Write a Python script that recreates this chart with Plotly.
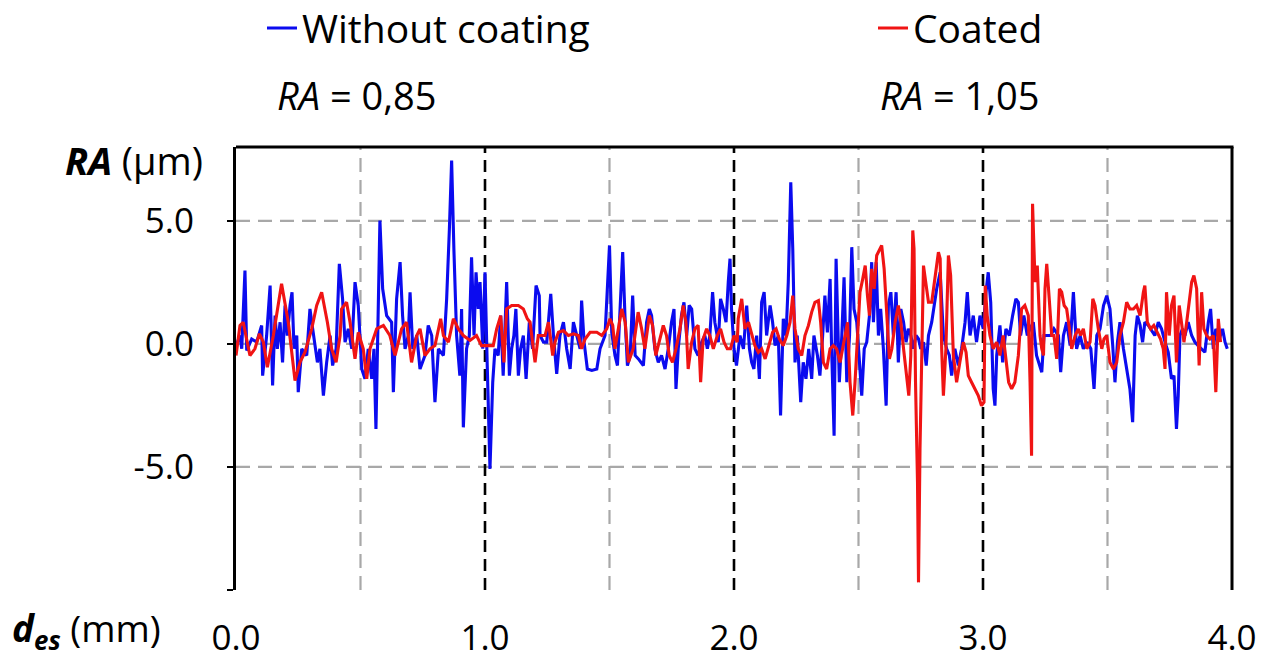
import plotly.graph_objects as go

# ---------------- data ----------------
blue_x = [0.0, 0.016, 0.023, 0.036, 0.043, 0.063, 0.083, 0.103, 0.107, 0.123, 0.137, 0.147, 0.157, 0.166, 0.177,
          0.187, 0.197, 0.206, 0.217, 0.225, 0.233, 0.244, 0.25, 0.264, 0.284, 0.297, 0.308, 0.317, 0.327, 0.337,
          0.351, 0.364, 0.378, 0.388, 0.402, 0.415,
          0.428, 0.438, 0.451, 0.465, 0.478, 0.491, 0.505, 0.518, 0.531, 0.545, 0.554, 0.562, 0.572, 0.578, 0.589,
          0.605, 0.625, 0.632, 0.645, 0.659, 0.669, 0.679, 0.692, 0.699, 0.71, 0.726, 0.739, 0.759, 0.772, 0.786,
          0.799, 0.813,
          0.833, 0.846, 0.857, 0.866, 0.875, 0.886, 0.899, 0.906, 0.913, 0.926, 0.937, 0.946, 0.956, 0.964, 0.973,
          0.98, 0.991, 1.0, 1.009, 1.02, 1.031, 1.04, 1.053, 1.063, 1.073, 1.087, 1.098, 1.107, 1.116, 1.124, 1.134,
          1.143, 1.154, 1.165, 1.178, 1.191, 1.205, 1.218,
          1.221, 1.235, 1.248, 1.264, 1.275, 1.288, 1.301, 1.315, 1.328, 1.342, 1.355, 1.368, 1.382, 1.388, 1.398,
          1.411, 1.429, 1.449, 1.462, 1.482, 1.492, 1.5, 1.509, 1.522, 1.532, 1.542, 1.553, 1.562, 1.572, 1.583,
          1.593, 1.603, 1.616,
          1.636, 1.649, 1.66, 1.669, 1.682, 1.696, 1.709, 1.723, 1.736, 1.749, 1.759, 1.767, 1.776, 1.789, 1.799,
          1.81, 1.82, 1.83, 1.843, 1.856, 1.87, 1.883, 1.893, 1.903, 1.914, 1.923, 1.937, 1.946, 1.957, 1.968,
          1.977, 1.984, 1.99, 2.0, 2.01,
          2.024, 2.038, 2.051, 2.062, 2.071, 2.08, 2.091, 2.102, 2.111, 2.121, 2.131, 2.145, 2.155, 2.165, 2.178,
          2.187, 2.198, 2.209, 2.218, 2.228, 2.236, 2.245, 2.254, 2.268, 2.278, 2.289, 2.3, 2.312, 2.321, 2.335,
          2.345, 2.356, 2.365, 2.375, 2.386, 2.392, 2.402, 2.41,
          2.423, 2.433, 2.442, 2.453, 2.464, 2.473, 2.482, 2.493, 2.504, 2.513, 2.523, 2.533, 2.544, 2.553, 2.56,
          2.571, 2.58, 2.589, 2.6, 2.611, 2.62, 2.63, 2.64, 2.651, 2.66, 2.67, 2.681, 2.691, 2.7, 2.71, 2.721,
          2.731, 2.741, 2.75, 2.761, 2.772, 2.781, 2.794, 2.814, 2.828,
          2.841, 2.854, 2.865, 2.874, 2.887, 2.901, 2.914, 2.928, 2.937, 2.948, 2.961, 2.974, 2.988, 3.001, 3.012,
          3.021, 3.031, 3.041, 3.048, 3.055, 3.068, 3.079, 3.092, 3.106, 3.119, 3.132, 3.142, 3.151, 3.164, 3.178,
          3.189, 3.202, 3.215, 3.229,
          3.236, 3.245, 3.259, 3.272, 3.285, 3.303, 3.312, 3.323, 3.336, 3.35, 3.363, 3.376, 3.39, 3.403, 3.419,
          3.433, 3.446, 3.457, 3.47, 3.484, 3.497, 3.51, 3.521, 3.53, 3.54, 3.55, 3.564, 3.577, 3.59, 3.601, 3.611,
          3.62, 3.631,
          3.641, 3.65, 3.664, 3.677, 3.69, 3.704, 3.717, 3.731, 3.744, 3.757, 3.767, 3.777, 3.784, 3.791, 3.801,
          3.811, 3.824, 3.838, 3.851, 3.864, 3.878, 3.891, 3.905, 3.914, 3.925, 3.935, 3.949, 3.962, 3.972, 3.981]
blue_y = [-0.07, 0.34, -0.2, 2.98, -0.27, 0.2, 0.07, 0.75, -1.29, 0.34, 2.37, -1.69, 1.15, -0.2, 0.88,
          -0.75, 1.56, 0.34, 1.56, 2.1, -0.2, 0.34, -1.96, -0.2, -0.47, 1.42, 0.61, -0.07, -0.75, -0.2,
          -2.1, -0.75, 0.34, -0.88, -0.2, 3.25,
          1.83, 0.07, 0.61, -0.2, 2.51, 1.56, -1.02, -1.42, -0.2, -1.42, -0.2, -3.46, 1.15, 5.01, 2.24,
          1.15, 0.88, -1.96, 1.83, 3.32, 1.15, -0.2, 0.34, 2.1, -0.2, 0.34, -1.02, -0.47, 0.75, 0.34,
          -2.37, -0.2,
          -0.47, 1.83, 4.67, 7.45, 3.86, 0.34, -1.29, 1.42, -3.39, -0.2, 0.34, 3.52, 0.34, 2.91, 1.42,
          2.51, -0.2, 2.91, -0.88, -5.08, -1.56, -0.2, -0.47, 1.15, -1.29, 2.51, -1.29, -0.2, 0.34, 1.42, -1.29,
          -0.2, 0.34, -1.42, 0.88, -0.2, 2.37, 1.96,
          0.34, 0.07, 0.07, 2.03, 0.34, -1.22, 0.34, 0.88, -0.2, -1.02, 0.88, 0.34, -0.2, 1.76, 0.07,
          -1.02, -1.08, -1.02, -0.2, 0.34, 2.78, 4.0, 0.47, -0.47, -0.88, 1.29, 3.73, 1.15, -0.88, -0.47,
          1.96, -0.47, -0.61,
          -0.88, 0.88, 1.42, 1.15, -0.2, -0.75, -0.47, -1.02, -0.2, 0.88, 1.42, -1.83, -0.2, 1.15, 1.69,
          0.34, 1.56, 1.42, -0.2, -0.47, 0.07, 0.34, -0.2, 0.34, 2.1, 0.88, 0.07, 1.83, 1.42, 0.88,
          2.51, 3.46, 1.42, -0.2, -0.88,
          0.34, -0.2, 1.56, -0.2, -0.75, -1.02, 0.34, -1.42, 1.69, 2.1, 0.34, 1.56, 0.88, -0.07, 0.34,
          -2.91, 1.02, 0.34, 2.51, 6.57, 3.86, -0.75, 0.34, -2.37, -0.75, -1.42, -0.2, -1.42, 0.34, -0.47,
          -1.29, 0.34, 1.96, 0.47, 2.64, -0.2, -3.73, 3.46,
          -1.56, 0.34, 2.71, -1.56, 0.34, 3.93, 1.42, 0.88, -0.88, -2.1, -0.2, 0.07, 1.15, 3.32, 0.88,
          3.32, 0.34, 1.42, -0.2, -2.51, 1.56, 2.1, 0.34, 2.1, -0.75, 1.42, 0.88, 0.07, 0.61, 0.34, -0.2,
          0.34, 0.2, -0.2, 0.07, -0.88, 0.34, 0.88, 2.24, 2.91,
          0.34, -0.2, -0.47, -1.29, -0.2, -0.88, -0.2, 0.88, 2.1, 0.34, 1.15, 0.07, 1.15, 0.61, 2.1,
          2.91, 1.69, -1.83, -2.51, -0.47, 0.75, -0.75, 0.61, 0.34, 1.15, 1.83, 1.69, 0.34, 1.15, 0.34,
          0.61, 0.88, -0.47, -0.88,
          -1.15, 0.34, 0.34, 0.34, 0.61, 0.34, -1.15, 0.34, 0.88, -0.07, 2.1, -0.2, 0.34, -0.2, 0.07,
          -0.2, -1.83, 0.34, 0.61, 1.56, 1.96, 1.42, -0.07, -1.56, 0.07, 0.88, -0.2, -1.02, -1.83, -3.18, 0.34,
          1.15, 0.75,
          0.07, 0.88, 0.75, 0.54, 0.34, 0.88, 0.61, 0.07, -0.34, -1.42, -1.29, -3.46, -2.1, 0.34, 0.61,
          0.34, 0.88, 0.34, 0.07, -0.07, -0.2, -0.34, 0.88, 1.42, -0.2, 0.61, 0.2, 0.61, 0.07, -0.2]

red_x = [0.0, 0.016, 0.029, 0.056, 0.076, 0.094, 0.11, 0.126, 0.15, 0.183, 0.21, 0.237, 0.257, 0.277, 0.304,
         0.324, 0.344, 0.367, 0.384, 0.402, 0.418,
         0.424, 0.444, 0.458, 0.478, 0.491, 0.511, 0.525, 0.538, 0.565, 0.592, 0.618, 0.639, 0.665, 0.685, 0.705,
         0.726, 0.739, 0.759, 0.779, 0.799, 0.822,
         0.833, 0.853, 0.873, 0.893, 0.913, 0.94, 0.966, 0.986, 1.007, 1.033, 1.047, 1.063, 1.076, 1.087, 1.107,
         1.134, 1.154, 1.17, 1.181, 1.201, 1.214,
         1.228, 1.241, 1.255, 1.272, 1.281, 1.295, 1.315, 1.335, 1.355, 1.375, 1.388, 1.402, 1.422, 1.449, 1.469,
         1.489, 1.502, 1.513, 1.522, 1.532, 1.549, 1.563, 1.576, 1.595, 1.615,
         1.629, 1.642, 1.66, 1.673, 1.686, 1.7, 1.716, 1.729, 1.74, 1.753, 1.767, 1.783, 1.796, 1.807, 1.816,
         1.83, 1.843, 1.856, 1.866, 1.876, 1.89, 1.903, 1.917, 1.933, 1.946, 1.96, 1.973, 1.986, 2.0, 2.013,
         2.017, 2.031, 2.044, 2.058, 2.071, 2.084, 2.098, 2.111, 2.125, 2.142, 2.155, 2.169, 2.182, 2.198, 2.212,
         2.225, 2.236, 2.245, 2.258, 2.272, 2.285, 2.299, 2.312, 2.325, 2.339, 2.348, 2.359, 2.372, 2.386, 2.399,
         2.412, 2.426,
         2.446, 2.456, 2.466, 2.477, 2.486, 2.496, 2.506, 2.517, 2.527, 2.536, 2.544, 2.553, 2.563, 2.573, 2.584,
         2.593, 2.603, 2.614, 2.624, 2.634, 2.647, 2.66, 2.67, 2.681, 2.691, 2.702, 2.71, 2.718, 2.723, 2.729,
         2.737, 2.741, 2.747, 2.754, 2.761, 2.77, 2.781, 2.794, 2.808, 2.821, 2.828,
         2.834, 2.841, 2.851, 2.861, 2.87, 2.881, 2.894, 2.907, 2.921, 2.932, 2.941, 2.954, 2.968, 2.981, 2.994,
         3.004, 3.009, 3.017, 3.028, 3.041, 3.055, 3.068, 3.081, 3.092, 3.103, 3.115, 3.128, 3.142, 3.155, 3.168,
         3.182, 3.189, 3.195, 3.199, 3.209, 3.218, 3.229,
         3.236, 3.243, 3.249, 3.256, 3.267, 3.276, 3.285, 3.296, 3.307, 3.316, 3.326, 3.336, 3.347, 3.356, 3.37,
         3.383, 3.392, 3.403, 3.417, 3.43, 3.441, 3.45, 3.463, 3.477, 3.486, 3.497, 3.51, 3.524, 3.537, 3.55,
         3.564, 3.577, 3.59, 3.604, 3.617, 3.631,
         3.644, 3.65, 3.66, 3.673, 3.686, 3.7, 3.713, 3.724, 3.731, 3.737, 3.748, 3.757, 3.767, 3.777, 3.788,
         3.797, 3.807, 3.818, 3.828, 3.838, 3.847, 3.858, 3.868, 3.878, 3.887, 3.898, 3.911, 3.925, 3.935, 3.945,
         3.954]
red_y = [-0.47, 0.75, 0.88, -0.47, -0.2, 0.41, 0.07, -0.95, 0.34, 2.44, 0.88, -1.49, -0.75, -0.34, 0.61,
         1.56, 2.1, 0.88, -0.2, -0.75, 0.34,
         1.42, 1.69, 0.88, -0.61, 0.47, -0.2, -1.42, -0.2, 0.61, 0.75, 0.34, -0.47, 0.61, 0.88, -0.75,
         0.34, 0.61, -0.47, -0.2, -0.07, 1.02,
         0.34, 0.07, 1.02, 0.61, 0.34, 0.14, 0.34, -0.07, -0.07, -0.07, 0.61, 1.15, -0.75, 1.42, 1.56,
         1.56, 1.42, 1.02, 0.88, -0.75, 0.34,
         0.34, 0.34, 0.88, -0.47, 0.07, 0.47, 0.54, 0.34, 0.41, 0.34, -0.2, 0.2, 0.47, 0.47, 0.34,
         0.61, 1.02, 0.75, -0.2, 0.34, 1.42, 0.88, -0.75, -0.2, 1.29,
         0.61, -0.2, 1.15, 0.75, -0.47, 0.07, 0.75, 0.34, -0.47, -0.75, -0.2, 0.61, 1.56, 0.88, -1.02,
         0.07, 0.61, 0.75, -1.56, 0.2, 0.61, 0.34, -0.2, 0.34, 0.61, 0.07, -0.2, -0.2, 0.34, 0.07,
         1.02, 1.83, 0.61, 0.88, 0.34, -0.07, -0.34, -0.2, -0.61, 0.07, 0.47, 0.61, 0.2, -0.07, 0.34,
         0.88, 1.96, 0.61, -0.2, -0.47, 0.34, 0.75, 1.29, 1.69, 1.76, 0.88, -0.75, -1.02, -0.2, -0.07,
         -0.2, -0.75,
         0.34, 0.88, -1.56, -2.91, -1.56, 0.34, 2.1, 2.64, 3.18, 1.96, 1.15, 3.05, 2.24, 3.59, 3.86,
         4.0, 3.05, 0.88, -0.61, -0.2, 0.88, 1.56, 0.88, -0.2, -1.02, -2.1, -0.47, 4.61, 3.86, -1.56,
         -5.63, -9.69, -4.27, 0.34, 3.18, 2.51, 1.69, 1.69, 2.78, 3.73, 3.46,
         -0.2, -2.1, -0.2, 3.59, 2.78, -0.47, -1.56, -0.75, 0.07, -0.34, -1.29, -1.56, -1.83, -2.1, -2.51,
         -2.37, 2.37, 1.15, 0.34, -0.2, 0.07, -0.47, 0.34, -0.75, -1.56, -1.83, -1.56, -0.47, 1.42, 1.56,
         1.15, -1.56, -4.54, 5.69, 2.51, 3.18, 0.34,
         -0.2, -0.47, 2.24, 3.25, 1.69, 0.34, 0.34, -0.61, 2.24, 2.1, 1.56, 1.42, 0.61, -0.2, 0.34,
         0.61, 0.34, 0.61, -0.2, 0.07, 1.83, 1.56, 0.61, -0.2, 0.2, 0.34, -0.75, -1.02, -0.75, 0.34,
         0.88, 1.69, 1.42, 1.42, 1.56, 1.15,
         2.1, 2.37, 0.88, 0.61, 0.75, 0.47, 0.2, -0.2, -1.02, 2.1, 0.34, 1.56, 1.96, -0.75, 1.56,
         0.88, 0.07, 0.88, 1.69, 2.51, 2.78, 2.24, -0.88, 2.1, 0.61, 0.34, 0.2, 0.34, -1.96, 1.02,
         0.07]

series_names = ["Without coating", "Coated"]
ra_labels = ["<i>RA</i> = 0,85", "<i>RA</i> = 1,05"]

x_tick_vals = [0, 1, 2, 3, 4]
x_tick_text = ["0.0", "1.0", "2.0", "3.0", "4.0"]
y_tick_vals = [-5, 0, 5]
y_tick_text = ["-5.0", "0.0", "5.0"]
x_range = [0, 4]
y_range = [-10, 8]
grey_x = [0.5, 1.5, 2.5, 3.5]
black_x = [1, 2, 3]
grey_y = [-5, 0, 5]

# ---------------- styling ----------------
FONT = "Open Sans, Noto Sans, sans-serif"
BLUE = "#0B0BEF"
RED = "#F01414"

fig = go.Figure()
fig.add_trace(go.Scatter(x=blue_x, y=blue_y, mode="lines", name=series_names[0], legend="legend",
                         line=dict(color=BLUE, width=3.1)))
fig.add_trace(go.Scatter(x=red_x, y=red_y, mode="lines", name=series_names[1], legend="legend2",
                         line=dict(color=RED, width=3.1)))

shapes = []
for gy in grey_y:
    shapes.append(dict(type="line", xref="paper", yref="y", x0=0, x1=1, y0=gy, y1=gy, layer="below",
                       line=dict(color="#A8A8A8", width=2.2, dash="14px,8px")))
for gx in grey_x:
    shapes.append(dict(type="line", xref="x", yref="paper", x0=gx, x1=gx, y0=0, y1=1, layer="below",
                       line=dict(color="#A8A8A8", width=2.2, dash="14px,8px")))
for gx in black_x:
    shapes.append(dict(type="line", xref="x", yref="paper", x0=gx, x1=gx, y0=0, y1=1, layer="below",
                       line=dict(color="black", width=2.6, dash="12px,7px")))
# frame: top and right
shapes.append(dict(type="line", xref="paper", yref="paper", x0=0, x1=1.0015, y0=1, y1=1,
                   line=dict(color="black", width=3)))
shapes.append(dict(type="line", xref="paper", yref="paper", x0=1, x1=1, y0=0, y1=1,
                   line=dict(color="black", width=3)))

annotations = [
    dict(text=ra_labels[0], xref="paper", yref="paper", x=0.1215, y=1.117, xanchor="center", yanchor="middle",
         showarrow=False, font=dict(family=FONT, size=38, color="black")),
    dict(text=ra_labels[1], xref="paper", yref="paper", x=0.727, y=1.117, xanchor="center", yanchor="middle",
         showarrow=False, font=dict(family=FONT, size=38, color="black")),
    dict(text="<b><i>RA</i></b> (µm)", xref="paper", yref="paper", x=-0.031, y=0.97, xanchor="right",
         yanchor="middle", showarrow=False, font=dict(family=FONT, size=38, color="black")),
    dict(text="<b><i>d</i></b><sub><b><i>es</i></b></sub> (mm)", xref="paper", yref="paper", x=-0.0733,
         y=-0.09, xanchor="right", yanchor="middle", showarrow=False,
         font=dict(family=FONT, size=37, color="black")),
]

legend_common = dict(orientation="h", xref="container", yref="container", xanchor="left", yanchor="middle",
                     y=0.958, font=dict(family=FONT, size=39, color="black"), bgcolor="rgba(0,0,0,0)",
                     itemwidth=30)

fig.update_layout(
    width=1267, height=670,
    margin=dict(l=236, r=35, t=147, b=80, pad=0, autoexpand=False),
    paper_bgcolor="white", plot_bgcolor="white",
    font=dict(family=FONT, size=34, color="black"),
    showlegend=True,
    legend=dict(legend_common, x=262 / 1267),
    legend2=dict(legend_common, x=873 / 1267),
    shapes=shapes,
    annotations=annotations,
    xaxis=dict(range=x_range, tickvals=x_tick_vals, ticktext=x_tick_text, showgrid=False, zeroline=False,
               showline=False, ticks="", ticklabelstandoff=24,
               tickfont=dict(family=FONT, size=35, color="black")),
    yaxis=dict(range=y_range, tickvals=y_tick_vals, ticktext=y_tick_text, showgrid=False, zeroline=False,
               showline=True, linecolor="black", linewidth=3, ticks="outside", ticklen=6, tickwidth=2,
               tickcolor="black", ticklabelstandoff=26,
               minor=dict(tick0=0, dtick=5, ticks="outside", ticklen=6, tickwidth=2, tickcolor="black",
                          showgrid=False),
               tickfont=dict(family=FONT, size=35, color="black")),
)

fig.write_html("out.html", config={"displayModeBar": False},
               post_script="document.body.style.margin='0px';")
